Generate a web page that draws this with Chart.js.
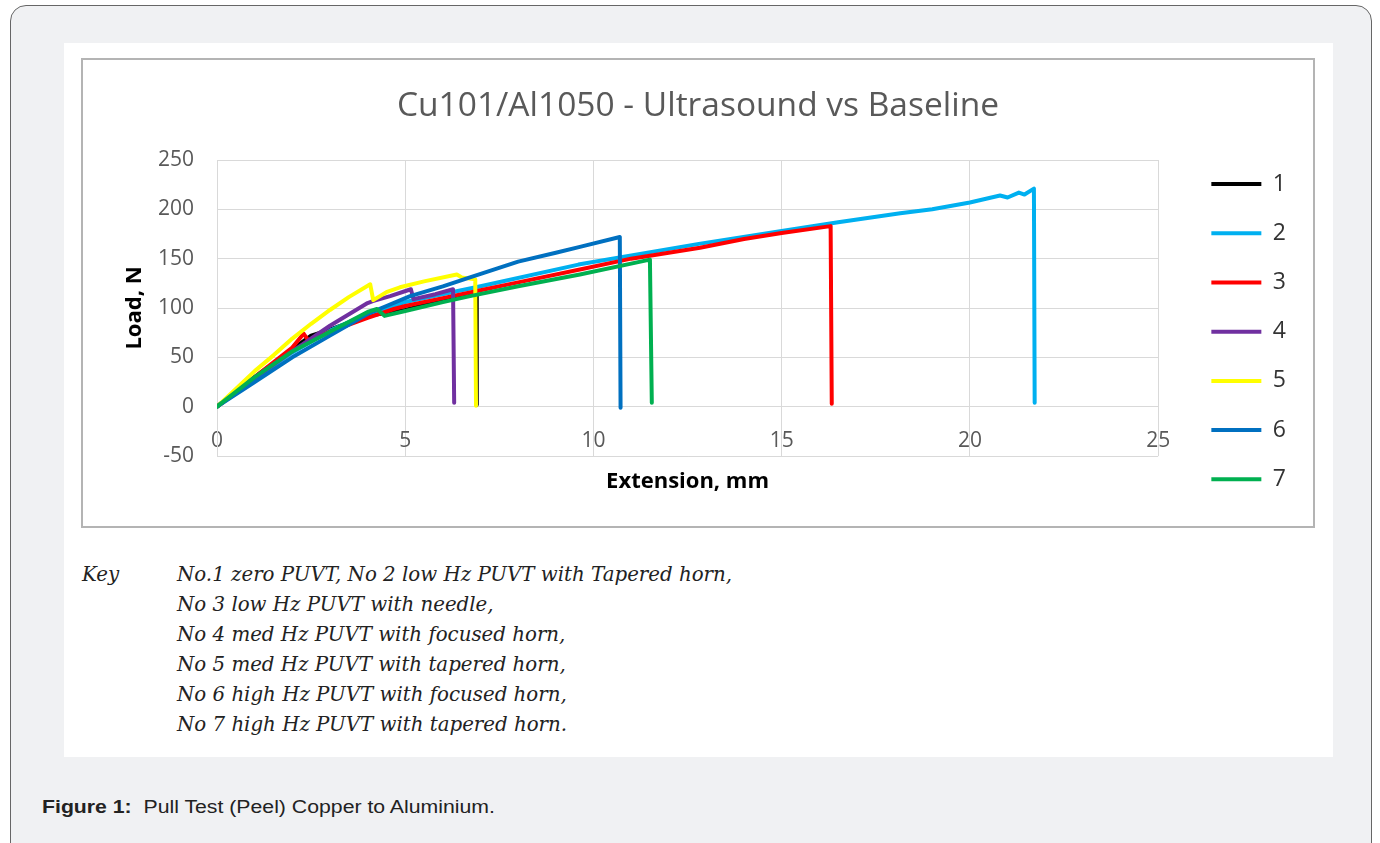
<!DOCTYPE html>
<html>
<head>
<meta charset="utf-8">
<script src="https://cdn.jsdelivr.net/npm/chart.js@4.4.1/dist/chart.umd.min.js"></script>
<style>
  body { margin: 0; background: #fff; width: 1380px; height: 843px; overflow: hidden; position: relative; }
  .card { position: absolute; left: 10px; top: 5px; width: 1362px; height: 860px; background: #f0f1f3;
          border: 1px solid #666; border-radius: 16px; box-sizing: border-box; }
  .panel { position: absolute; left: 64px; top: 43px; width: 1269px; height: 714px; background: #fff; }
  .chartbox { position: absolute; left: 81px; top: 58px; width: 1234px; height: 470px; border: 2px solid #b4b4b4;
              box-sizing: border-box; background: #fff; }
  .chartbox canvas { position: absolute; left: 0; top: 0; }
  .key { position: absolute; left: 82px; top: 560px; font-family: "DejaVu Serif", serif; font-style: italic;
         font-size: 19.8px; color: #222; line-height: 30px; }
  .key .lbl { position: absolute; left: 0; top: 0; }
  .key .txt { position: absolute; left: 95px; top: 0; white-space: nowrap; }
  .caption { position: absolute; left: 42px; top: 797px; font-family: "Liberation Sans", Arial, sans-serif;
             font-size: 18px; color: #222; white-space: nowrap; transform: scaleX(1.18); transform-origin: left center; }
</style>
</head>
<body>
<div class="card"></div>
<div class="panel"></div>
<div class="chartbox"><canvas id="peelChart" width="1230" height="466"></canvas></div>
<div class="key">
  <div class="lbl">Key</div>
  <div class="txt">No.1 zero PUVT, No 2 low Hz PUVT with Tapered horn,<br>No 3 low Hz PUVT with needle,<br>No 4 med Hz PUVT with focused horn,<br>No 5 med Hz PUVT with tapered horn,<br>No 6 high Hz PUVT with focused horn,<br>No 7 high Hz PUVT with tapered horn.</div>
</div>
<div class="caption"><b>Figure 1:</b>&nbsp; Pull Test (Peel) Copper to Aluminium.</div>

<script>
// Extension (mm) / Load (N) for each run
const ext1 = [0, 0.5, 1, 2, 2.5, 3, 4, 5, 6, 6.88, 6.9];
const load1 = [0, 15, 30, 58, 72, 78, 92, 98, 108, 114, 2];

const ext2 = [0, 1, 2, 3, 4, 5, 7, 9.6, 12.8, 15, 16.5, 18.15, 19, 20, 20.8, 21.0, 21.3, 21.45, 21.7, 21.72];
const load2 = [0, 28, 55, 77, 94, 106, 122, 144, 165, 178, 187, 196, 200, 207, 214, 212, 217, 215, 221, 4];

const ext3 = [0, 0.5, 1, 1.5, 2, 2.3, 2.45, 3, 4, 4.7, 5, 6, 7, 8, 9.64, 11, 12.83, 14, 15, 16.3, 16.33];
const load3 = [0, 14, 30, 45, 60, 74, 66, 76, 90, 99, 102, 110, 118, 126, 139, 150, 161, 170, 176, 183, 3];

const ext4 = [0, 0.5, 1, 2, 3, 4, 4.14, 4.6, 5.15, 5.22, 5.8, 6.27, 6.3];
const load4 = [0, 15, 29, 56, 82, 105, 107, 112, 119, 109, 114, 119, 4];

const ext5 = [0, 0.5, 1, 1.5, 2, 2.5, 3, 3.5, 4.07, 4.15, 4.5, 4.86, 5.5, 6.37, 6.5, 6.86, 6.88];
const load5 = [0, 18, 36, 52, 69, 84, 98, 111, 124, 108, 116, 121, 127, 134, 131, 129, 1];

const ext6 = [0, 1, 2, 3, 4, 4.5, 5.13, 6, 6.72, 8, 9, 9.64, 10.7, 10.72];
const load6 = [0, 25, 50, 72, 94, 102, 112, 122, 131, 147, 156, 162, 172, -1];

const ext7 = [0, 0.5, 1, 2, 3, 4, 4.25, 4.45, 5, 6, 6.72, 8, 9.64, 11.5, 11.55];
const load7 = [0, 15, 30, 56, 76, 96, 99, 92, 97, 106, 112, 122, 134, 149, 4];

const runLabels = ['1', '2', '3', '4', '5', '6', '7'];
const runColors = ['#000000', '#00b0f0', '#ff0000', '#7030a0', '#ffff00', '#0070c0', '#00b050'];
const xTicks = [0, 5, 10, 15, 20, 25];
const yTicks = [-50, 0, 50, 100, 150, 200, 250];

const runs = [[ext1, load1], [ext2, load2], [ext3, load3], [ext4, load4], [ext5, load5], [ext6, load6], [ext7, load7]];

const datasets = runs.map(([xs, ys], i) => ({
    label: runLabels[i],
    data: xs.map((x, j) => ({ x: x, y: ys[j] })),
    borderColor: runColors[i],
    backgroundColor: runColors[i],
    borderWidth: 4,
    borderCapStyle: 'round',
    borderJoinStyle: 'round',
    pointRadius: 0,
    showLine: true,
    fill: false,
    tension: 0,
    order: runLabels.length - i   // later runs drawn on top, like Excel
}));

const gridGrey = '#d9d9d9';
const tickGrey = '#595959';

// invisible axis used only to reserve room in the layout
const spacer = (position, size) => ({
    type: 'linear',
    position: position,
    grid: { display: false },
    ticks: { display: false },
    border: { display: false },
    afterFit: s => { if (s.isHorizontal()) s.height = size; else s.width = size; }
});

new Chart(document.getElementById('peelChart').getContext('2d'), {
    type: 'scatter',
    data: { datasets: datasets },
    options: {
        responsive: false,
        animation: false,
        devicePixelRatio: 1,
        layout: { padding: { left: 17, right: 17, top: 0, bottom: 9 } },
        plugins: {
            tooltip: { enabled: false },
            title: {
                display: true,
                text: 'Cu101/Al1050 - Ultrasound vs Baseline',
                color: tickGrey,
                font: { family: 'Open Sans', size: 33.5, weight: 'normal' },
                padding: { top: 26, bottom: 33.8 }
            },
            legend: {
                position: 'right',
                align: 'end',
                reverse: true,
                labels: {
                    usePointStyle: true,
                    pointStyle: 'line',
                    pointStyleWidth: 50,
                    padding: 26.2,
                    color: '#333',
                    font: { family: 'Open Sans', size: 23 }
                }
            }
        },
        scales: {
            x: {
                type: 'linear',
                position: { y: 0 },   // Excel crosses the x axis at load 0
                min: 0, max: 25,
                afterBuildTicks: s => { s.ticks = xTicks.map(v => ({ value: v })); },
                afterFit: s => { s.height = 61; },
                grid: { color: gridGrey, drawTicks: false },
                border: { color: gridGrey },
                ticks: { color: tickGrey, padding: 21.4, font: { family: 'Open Sans', size: 21 }, maxRotation: 0 },
                title: {
                    display: true, text: 'Extension, mm', color: '#000',
                    font: { family: 'Open Sans', size: 22, weight: 'bold' },
                    padding: { top: 0, bottom: -27.2 }
                }
            },
            y: {
                type: 'linear',
                min: -50, max: 250,
                afterBuildTicks: s => { s.ticks = yTicks.map(v => ({ value: v })); },
                afterFit: s => { s.width = 117; },
                grid: { color: gridGrey, drawTicks: false },
                border: { color: gridGrey },
                ticks: { color: tickGrey, padding: 23, font: { family: 'Open Sans', size: 21 } },
                title: {
                    display: true, text: 'Load, N', color: '#000',
                    font: { family: 'Open Sans', size: 22, weight: 'bold' },
                    padding: { top: 21.8, bottom: 0 }
                }
            },
            gapRight: spacer('right', 27),
            gapBottom: spacer('bottom', 61)
        }
    }
});
</script>
</body>
</html>
